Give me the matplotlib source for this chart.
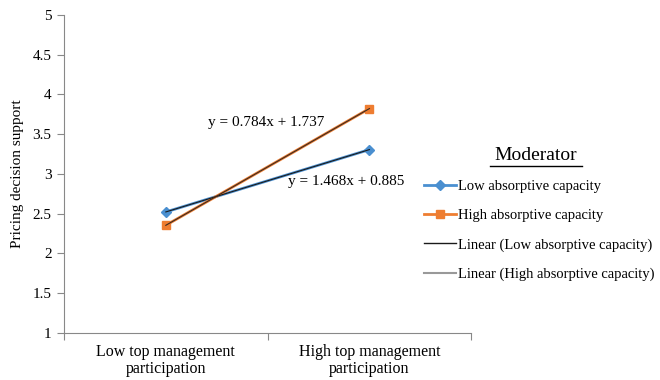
import matplotlib.pyplot as plt
from matplotlib.lines import Line2D
import numpy as np

plt.rcParams['font.family'] = ['Liberation Serif', 'DejaVu Serif']

categories = ['Low top management\nparticipation', 'High top management\nparticipation']
low_absorptive = [2.521, 3.305]
high_absorptive = [2.353, 3.821]
eq_low = 'y = 0.784x + 1.737'
eq_high = 'y = 1.468x + 0.885'

blue = '#4a8fd0'
orange = '#ee7d31'
axis_gray = '#888888'

fig = plt.figure(figsize=(6.6, 3.8), dpi=100)
ax = fig.add_axes([0.097, 0.124, 0.617, 0.837])

x = np.arange(1, len(categories) + 1)
ax.plot(x, low_absorptive, color=blue, lw=2, marker='D', ms=5, label='Low absorptive capacity')
ax.plot(x, high_absorptive, color=orange, lw=2, marker='s', ms=6, label='High absorptive capacity')

# linear trendlines
p_low = np.polyfit(x, low_absorptive, 1)
p_high = np.polyfit(x, high_absorptive, 1)
ax.plot(x, np.polyval(p_low, x), color='#1a1a1a', lw=0.8, label='Linear (Low absorptive capacity)')
ax.plot(x, np.polyval(p_high, x), color='#3a2a20', lw=0.8, label='Linear (High absorptive capacity)')

ax.text(1.493, 3.64, eq_low, fontsize=11, ha='center', va='center')
ax.text(1.60, 2.90, eq_high, fontsize=11, ha='left', va='center')

ax.set_xlim(0.5, 2.5)
ax.set_ylim(1, 5)
ax.set_yticks(np.arange(1, 5.01, 0.5))
ax.set_yticklabels(['1', '1.5', '2', '2.5', '3', '3.5', '4', '4.5', '5'])
ax.set_xticks([0.5, 1.5, 2.5])
ax.set_xticklabels([])
ax.set_xticks(x, minor=True)
ax.set_xticklabels(categories, minor=True, linespacing=1.05)
ax.tick_params(axis='x', which='minor', length=0, pad=8, labelsize=11.5)
ax.tick_params(axis='x', which='major', length=5, color=axis_gray)
ax.tick_params(axis='y', length=5, color=axis_gray, labelsize=11, pad=4)
ax.set_ylabel('Pricing decision support', fontsize=11, labelpad=6)

for s in ['top', 'right']:
    ax.spines[s].set_visible(False)
for s in ['left', 'bottom']:
    ax.spines[s].set_color(axis_gray)

handles = [
    Line2D([], [], color=blue, lw=2, marker='D', ms=5),
    Line2D([], [], color=orange, lw=2, marker='s', ms=6),
    Line2D([], [], color='#1a1a1a', lw=1),
    Line2D([], [], color='#999999', lw=1.5),
]
labels = ['Low absorptive capacity', 'High absorptive capacity',
          'Linear (Low absorptive capacity)', 'Linear (High absorptive capacity)']
fig.legend(handles, labels, loc='upper left', bbox_to_anchor=(0.622, 0.562),
           frameon=False, fontsize=10.5, handlelength=2.2, handletextpad=0.15,
           labelspacing=1.1)

fig.text(0.811, 0.592, 'Moderator', fontsize=14, ha='center', va='center')
fig.add_artist(Line2D([0.742, 0.882], [0.563, 0.563], color='black', lw=1))

fig.savefig('out.png', dpi=100)
